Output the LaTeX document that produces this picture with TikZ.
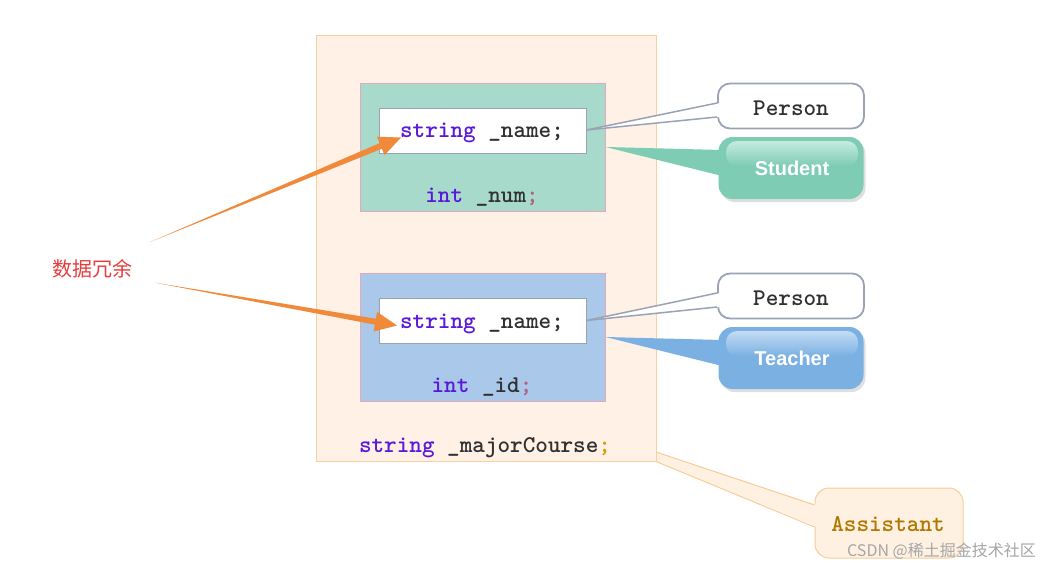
\documentclass[tikz,border=0pt]{standalone}
\usepackage{fontspec}
\newfontfamily\cjkfont{Noto Sans CJK SC}
\newfontfamily\labelsans{Liberation Sans}
\usetikzlibrary{calc,shadows}
\definecolor{outerfill}{HTML}{FFF1E6}
\definecolor{outerdraw}{HTML}{F8CFA0}
\definecolor{greenfill}{HTML}{A8DACB}
\definecolor{bluefill}{HTML}{AAC8EA}
\definecolor{pinkdraw}{HTML}{E4A8BC}
\definecolor{graydraw}{HTML}{9AA2B4}
\definecolor{kwcolor}{HTML}{5A18D8}
\definecolor{idcolor}{HTML}{303030}
\definecolor{studfill}{HTML}{7ECCB4}
\definecolor{studhi}{HTML}{C4EBDF}
\definecolor{teachfill}{HTML}{7AB0E2}
\definecolor{teachhi}{HTML}{C4DCF4}
\definecolor{asstfill}{HTML}{FFF1E2}
\definecolor{asstdraw}{HTML}{F8CC98}
\definecolor{asstext}{HTML}{B07800}
\definecolor{arrowc}{HTML}{F08A3A}
\definecolor{redlabel}{HTML}{E63C3C}
\definecolor{semicol}{HTML}{B06080}
\definecolor{semigold}{HTML}{D0A000}
\newcommand\fatarrow[2]{%
  \path ($(#2)!22pt!(#1)$) coordinate (fatB);
  \fill[arrowc] (#1) -- ($(fatB)!3pt!90:(#2)$) -- ($(fatB)!10pt!90:(#2)$) -- (#2)
     -- ($(fatB)!10pt!-90:(#2)$) -- ($(fatB)!3pt!-90:(#2)$) -- cycle;}
\tikzset{
  codefont/.style={font=\ttfamily\bfseries\fontsize{24}{24}\selectfont},
  code/.style={codefont, inner sep=0pt},
  outerbox/.style={draw=outerdraw, fill=outerfill, line width=1pt, inner sep=0pt},
  classbox/.style={draw=pinkdraw, line width=1pt, inner sep=0pt, minimum width=245pt, minimum height=128pt},
  fieldbox/.style={draw=graydraw, fill=white, line width=1pt, inner sep=0pt, minimum width=207pt, minimum height=45pt},
  personbox/.style={draw=graydraw, fill=white, line width=1.8pt, rounded corners=12pt, inner sep=0pt,
     minimum width=146pt, minimum height=45pt},
  glossbox/.style={rounded corners=14pt, inner sep=0pt, minimum width=145pt, minimum height=62pt,
     drop shadow={shadow xshift=2pt, shadow yshift=-3pt, opacity=0.25}},
  glosstext/.style={font=\labelsans\bfseries\fontsize{20}{20}\selectfont, text=white, inner sep=0pt},
}
\begin{document}
\begin{tikzpicture}[x=1pt,y=-1pt]
\useasboundingbox (0,0) rectangle (1043,571);
\fill[white] (0,0) rectangle (1043,571);

% Assistant callout tail (behind outer box)
\node[draw=asstdraw, fill=asstfill, line width=1pt, rounded corners=14pt, minimum width=148pt, minimum height=70pt, inner sep=0pt] (asst) at (889,523) {};
\coordinate (atail1) at (650,450);
\coordinate (atail2) at (650,459);
\fill[asstfill] (atail1) -- ($(asst.west)+(3,-18)$) -- ($(asst.west)+(3,4)$) -- (atail2) -- cycle;
\draw[asstdraw, line width=1pt] (atail1) -- ($(asst.west)+(0,-18)$);
\draw[asstdraw, line width=1pt] (atail2) -- ($(asst.west)+(0,4)$);
\node[code, text=asstext] (asstlabel) at (888,524.5) {Assistant};

% Outer box
\node[outerbox, minimum width=340pt, minimum height=426pt] (outer) at (486,248) {};

% Student class box
\node[classbox, fill=greenfill] (green) at (482.5,147) {};
\node[fieldbox] (f1) at (482.5,130.5) {};
\node[code] (f1text) at (482,133) {\textcolor{kwcolor}{string} \textcolor{idcolor}{\_name;}};
\node[code] (num) at (482,197) {\textcolor{kwcolor}{int} \textcolor{idcolor}{\_num}\textcolor{semicol}{;}};

% Teacher class box
\node[classbox, fill=bluefill] (blue) at (482.5,337) {};
\node[fieldbox] (f2) at (482.5,321) {};
\node[code] (f2text) at (482,323.5) {\textcolor{kwcolor}{string} \textcolor{idcolor}{\_name;}};
\node[code] (idf) at (482,387) {\textcolor{kwcolor}{int} \textcolor{idcolor}{\_id}\textcolor{semicol}{;}};

\node[code] (major) at (485,448) {\textcolor{kwcolor}{string} \textcolor{idcolor}{\_majorCourse}\textcolor{semigold}{;}};

% Person callouts
\node[personbox] (p1) at (791,106) {};
\node[code, text=idcolor] (p1text) at (791,108) {Person};
\fill[white] ($(f1.east)+(0,-0.5)$) -- ($(p1.west)+(3,-3)$) -- ($(p1.west)+(3,11)$) -- cycle;
\draw[graydraw, line width=1.5pt] ($(f1.east)+(0,-0.5)$) -- ($(p1.west)+(0,-3)$);
\draw[graydraw, line width=1.5pt] ($(f1.east)+(0,-0.5)$) -- ($(p1.west)+(0,11)$);

\node[personbox] (p2) at (791,296) {};
\node[code, text=idcolor] (p2text) at (791,298) {Person};
\fill[white] ($(f2.east)+(0,-0.5)$) -- ($(p2.west)+(3,-3)$) -- ($(p2.west)+(3,11)$) -- cycle;
\draw[graydraw, line width=1.5pt] ($(f2.east)+(0,-0.5)$) -- ($(p2.west)+(0,-3)$);
\draw[graydraw, line width=1.5pt] ($(f2.east)+(0,-0.5)$) -- ($(p2.west)+(0,11)$);

% Student callout
\node[glossbox, fill=studfill] (stud) at (791,168) {};
\fill[studfill] (green.east) -- ($(stud.west)+(4,-18)$) -- ($(stud.west)+(4,8)$) -- cycle;
\shade[top color=studhi, bottom color=studfill, rounded corners=11pt] (726,141) rectangle (858,166);
\node[glosstext] (studlabel) at (792,168) {Student};

% Teacher callout
\node[glossbox, fill=teachfill] (teach) at (791,358) {};
\fill[teachfill] (blue.east) -- ($(teach.west)+(4,-18)$) -- ($(teach.west)+(4,8)$) -- cycle;
\shade[top color=teachhi, bottom color=teachfill, rounded corners=11pt] (726,331) rectangle (858,356);
\node[glosstext] (teachlabel) at (792,358) {Teacher};

% Redundancy label and arrows
\node[font=\cjkfont\fontsize{20}{20}\selectfont, text=redlabel, inner sep=0pt] (redund) at (92.5,269) {数据冗余};
\coordinate (s1) at (150,242);
\coordinate (t1) at (401,137.5);
\coordinate (s2) at (154,282.5);
\coordinate (t2) at (397,325.5);
\fatarrow{s1}{t1}
\fatarrow{s2}{t2}

% watermark
\node[font=\cjkfont\fontsize{16}{16}\selectfont, text=black!35, inner sep=0pt, anchor=east] (wm) at (1036,551) {CSDN @稀土掘金技术社区};
\end{tikzpicture}
\end{document}
